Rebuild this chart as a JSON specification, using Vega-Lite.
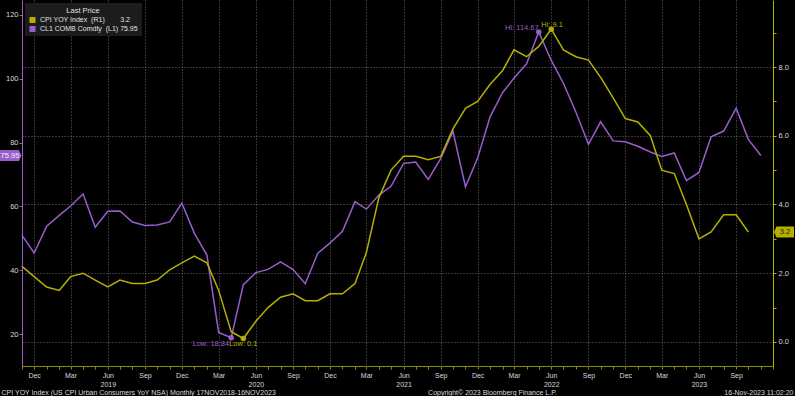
{
  "$schema": "https://vega.github.io/schema/vega-lite/v6.json",
  "width": 751,
  "height": 366,
  "autosize": {"type": "none"},
  "padding": {"left": 22, "top": 0, "right": 22, "bottom": 30},
  "background": "#000000",
  "config": {
    "view": {"stroke": null},
    "font": "Liberation Sans"
  },
  "datasets": {
    "oil": [
      {"date": "2018-11-01", "series": "CL1", "value": 50.93},
      {"date": "2018-12-01", "series": "CL1", "value": 45.41},
      {"date": "2019-01-01", "series": "CL1", "value": 53.79},
      {"date": "2019-02-01", "series": "CL1", "value": 57.22},
      {"date": "2019-03-01", "series": "CL1", "value": 60.14},
      {"date": "2019-04-01", "series": "CL1", "value": 63.91},
      {"date": "2019-05-01", "series": "CL1", "value": 53.5},
      {"date": "2019-06-01", "series": "CL1", "value": 58.47},
      {"date": "2019-07-01", "series": "CL1", "value": 58.58},
      {"date": "2019-08-01", "series": "CL1", "value": 55.1},
      {"date": "2019-09-01", "series": "CL1", "value": 54.07},
      {"date": "2019-10-01", "series": "CL1", "value": 54.18},
      {"date": "2019-11-01", "series": "CL1", "value": 55.17},
      {"date": "2019-12-01", "series": "CL1", "value": 61.06},
      {"date": "2020-01-01", "series": "CL1", "value": 51.56},
      {"date": "2020-02-01", "series": "CL1", "value": 44.76},
      {"date": "2020-03-01", "series": "CL1", "value": 20.48},
      {"date": "2020-04-01", "series": "CL1", "value": 18.84},
      {"date": "2020-05-01", "series": "CL1", "value": 35.49},
      {"date": "2020-06-01", "series": "CL1", "value": 39.27},
      {"date": "2020-07-01", "series": "CL1", "value": 40.27},
      {"date": "2020-08-01", "series": "CL1", "value": 42.61},
      {"date": "2020-09-01", "series": "CL1", "value": 40.22},
      {"date": "2020-10-01", "series": "CL1", "value": 35.79},
      {"date": "2020-11-01", "series": "CL1", "value": 45.34},
      {"date": "2020-12-01", "series": "CL1", "value": 48.52},
      {"date": "2021-01-01", "series": "CL1", "value": 52.2},
      {"date": "2021-02-01", "series": "CL1", "value": 61.5},
      {"date": "2021-03-01", "series": "CL1", "value": 59.16},
      {"date": "2021-04-01", "series": "CL1", "value": 63.58},
      {"date": "2021-05-01", "series": "CL1", "value": 66.32},
      {"date": "2021-06-01", "series": "CL1", "value": 73.47},
      {"date": "2021-07-01", "series": "CL1", "value": 73.95},
      {"date": "2021-08-01", "series": "CL1", "value": 68.5},
      {"date": "2021-09-01", "series": "CL1", "value": 75.03},
      {"date": "2021-10-01", "series": "CL1", "value": 83.57},
      {"date": "2021-11-01", "series": "CL1", "value": 66.18},
      {"date": "2021-12-01", "series": "CL1", "value": 75.21},
      {"date": "2022-01-01", "series": "CL1", "value": 88.15},
      {"date": "2022-02-01", "series": "CL1", "value": 95.72},
      {"date": "2022-03-01", "series": "CL1", "value": 100.28},
      {"date": "2022-04-01", "series": "CL1", "value": 104.69},
      {"date": "2022-05-01", "series": "CL1", "value": 114.67},
      {"date": "2022-06-01", "series": "CL1", "value": 105.76},
      {"date": "2022-07-01", "series": "CL1", "value": 98.62},
      {"date": "2022-08-01", "series": "CL1", "value": 89.55},
      {"date": "2022-09-01", "series": "CL1", "value": 79.49},
      {"date": "2022-10-01", "series": "CL1", "value": 86.53},
      {"date": "2022-11-01", "series": "CL1", "value": 80.55},
      {"date": "2022-12-01", "series": "CL1", "value": 80.26},
      {"date": "2023-01-01", "series": "CL1", "value": 78.87},
      {"date": "2023-02-01", "series": "CL1", "value": 77.05},
      {"date": "2023-03-01", "series": "CL1", "value": 75.67},
      {"date": "2023-04-01", "series": "CL1", "value": 76.78},
      {"date": "2023-05-01", "series": "CL1", "value": 68.09},
      {"date": "2023-06-01", "series": "CL1", "value": 70.64},
      {"date": "2023-07-01", "series": "CL1", "value": 81.8},
      {"date": "2023-08-01", "series": "CL1", "value": 83.63},
      {"date": "2023-09-01", "series": "CL1", "value": 90.79},
      {"date": "2023-10-01", "series": "CL1", "value": 81.02},
      {"date": "2023-11-01", "series": "CL1", "value": 75.95}
    ],
    "cpi": [
      {"date": "2018-11-01", "series": "CPI", "value": 2.2},
      {"date": "2018-12-01", "series": "CPI", "value": 1.9},
      {"date": "2019-01-01", "series": "CPI", "value": 1.6},
      {"date": "2019-02-01", "series": "CPI", "value": 1.5},
      {"date": "2019-03-01", "series": "CPI", "value": 1.9},
      {"date": "2019-04-01", "series": "CPI", "value": 2.0},
      {"date": "2019-05-01", "series": "CPI", "value": 1.8},
      {"date": "2019-06-01", "series": "CPI", "value": 1.6},
      {"date": "2019-07-01", "series": "CPI", "value": 1.8},
      {"date": "2019-08-01", "series": "CPI", "value": 1.7},
      {"date": "2019-09-01", "series": "CPI", "value": 1.7},
      {"date": "2019-10-01", "series": "CPI", "value": 1.8},
      {"date": "2019-11-01", "series": "CPI", "value": 2.1},
      {"date": "2019-12-01", "series": "CPI", "value": 2.3},
      {"date": "2020-01-01", "series": "CPI", "value": 2.5},
      {"date": "2020-02-01", "series": "CPI", "value": 2.3},
      {"date": "2020-03-01", "series": "CPI", "value": 1.5},
      {"date": "2020-04-01", "series": "CPI", "value": 0.3},
      {"date": "2020-05-01", "series": "CPI", "value": 0.1},
      {"date": "2020-06-01", "series": "CPI", "value": 0.6},
      {"date": "2020-07-01", "series": "CPI", "value": 1.0},
      {"date": "2020-08-01", "series": "CPI", "value": 1.3},
      {"date": "2020-09-01", "series": "CPI", "value": 1.4},
      {"date": "2020-10-01", "series": "CPI", "value": 1.2},
      {"date": "2020-11-01", "series": "CPI", "value": 1.2},
      {"date": "2020-12-01", "series": "CPI", "value": 1.4},
      {"date": "2021-01-01", "series": "CPI", "value": 1.4},
      {"date": "2021-02-01", "series": "CPI", "value": 1.7},
      {"date": "2021-03-01", "series": "CPI", "value": 2.6},
      {"date": "2021-04-01", "series": "CPI", "value": 4.2},
      {"date": "2021-05-01", "series": "CPI", "value": 5.0},
      {"date": "2021-06-01", "series": "CPI", "value": 5.4},
      {"date": "2021-07-01", "series": "CPI", "value": 5.4},
      {"date": "2021-08-01", "series": "CPI", "value": 5.3},
      {"date": "2021-09-01", "series": "CPI", "value": 5.4},
      {"date": "2021-10-01", "series": "CPI", "value": 6.2},
      {"date": "2021-11-01", "series": "CPI", "value": 6.8},
      {"date": "2021-12-01", "series": "CPI", "value": 7.0},
      {"date": "2022-01-01", "series": "CPI", "value": 7.5},
      {"date": "2022-02-01", "series": "CPI", "value": 7.9},
      {"date": "2022-03-01", "series": "CPI", "value": 8.5},
      {"date": "2022-04-01", "series": "CPI", "value": 8.3},
      {"date": "2022-05-01", "series": "CPI", "value": 8.6},
      {"date": "2022-06-01", "series": "CPI", "value": 9.1},
      {"date": "2022-07-01", "series": "CPI", "value": 8.5},
      {"date": "2022-08-01", "series": "CPI", "value": 8.3},
      {"date": "2022-09-01", "series": "CPI", "value": 8.2},
      {"date": "2022-10-01", "series": "CPI", "value": 7.7},
      {"date": "2022-11-01", "series": "CPI", "value": 7.1},
      {"date": "2022-12-01", "series": "CPI", "value": 6.5},
      {"date": "2023-01-01", "series": "CPI", "value": 6.4},
      {"date": "2023-02-01", "series": "CPI", "value": 6.0},
      {"date": "2023-03-01", "series": "CPI", "value": 5.0},
      {"date": "2023-04-01", "series": "CPI", "value": 4.9},
      {"date": "2023-05-01", "series": "CPI", "value": 4.0},
      {"date": "2023-06-01", "series": "CPI", "value": 3.0},
      {"date": "2023-07-01", "series": "CPI", "value": 3.2},
      {"date": "2023-08-01", "series": "CPI", "value": 3.7},
      {"date": "2023-09-01", "series": "CPI", "value": 3.7},
      {"date": "2023-10-01", "series": "CPI", "value": 3.2}
    ],
    "notes": [
      {"date": "2022-05-01", "series": "CL1", "kind": "hi", "value": 114.67, "label": "Hi: 114.67"},
      {"date": "2020-04-01", "series": "CL1", "kind": "low", "value": 18.84, "label": "Low: 18.84"},
      {"date": "2022-06-01", "series": "CPI", "kind": "hi", "value": 9.1, "label": "Hi: 9.1"},
      {"date": "2020-05-01", "series": "CPI", "kind": "low", "value": 0.1, "label": "Low: 0.1"}
    ],
    "tags": [
      {"series": "CL1", "value": 75.95, "label": "75.95"},
      {"series": "CPI", "value": 3.2, "label": "3.2"}
    ]
  },
  "layer": [
    {
      "layer": [
        {
          "data": {"name": "oil"},
          "mark": {"type": "line", "strokeWidth": 1.5, "clip": false},
          "encoding": {
            "x": {
              "field": "date",
              "type": "temporal",
              "scale": {"type": "utc", "domain": [{"year": 2018, "month": 11, "date": 1, "utc": true}, {"year": 2023, "month": 12, "date": 1, "utc": true}]},
              "axis": {
                "tickCount": {"interval": "month", "step": 1},
                "labelExpr": "(utcyear(datum.value) === 2023 && utcmonth(datum.value) === 11) ? '' : (utcmonth(datum.value) === 5 ? [utcFormat(datum.value, '%b'), utcFormat(datum.value, '%Y')] : (utcmonth(datum.value) % 3 === 2 ? utcFormat(datum.value, '%b') : ''))",
                "labelOverlap": false,
                "labelFlush": false,
                "labelBound": false,
                "labelColor": "#d8d8d8",
                "labelFontSize": 7,
                "labelLineHeight": 9,
                "labelPadding": 2,
                "grid": true,
                "gridColor": "#6a6a6a",
                "gridDash": [1, 2],
                "gridOpacity": {"condition": {"test": "utcmonth(datum.value) % 3 === 2 && !(utcyear(datum.value) === 2023 && utcmonth(datum.value) === 11)", "value": 1}, "value": 0},
                "domainColor": "#8c8a00",
                "tickColor": "#8c8a00",
                "tickSize": 3,
                "title": "CPI YOY Index (US CPI Urban Consumers YoY NSA)  Monthly 17NOV2018-16NOV2023",
                "titleX": -21,
                "titleY": 28,
                "titleAlign": "left",
                "titleBaseline": "alphabetic",
                "titleColor": "#d8d8d8",
                "titleFontSize": 7,
                "titleFontWeight": "normal"
              }
            },
            "y": {
              "field": "value",
              "type": "quantitative",
              "scale": {"domain": [10, 124.7], "nice": false, "zero": false},
              "axis": {
                "orient": "left",
                "values": [20, 30, 40, 50, 60, 70, 80, 90, 100, 110, 120],
                "format": "d",
                "labelExpr": "datum.value % 20 === 0 ? datum.label : ''",
                "grid": false,
                "domainColor": "#9b5ccc",
                "tickColor": "#9b5ccc",
                "tickSize": 3,
                "labelColor": "#d8d8d8",
                "labelFontSize": 7.5,
                "labelPadding": 1,
                "title": "Copyright© 2023 Bloomberg Finance L.P.",
                "titleAngle": 0,
                "titleX": 470,
                "titleY": 394,
                "titleAlign": "center",
                "titleBaseline": "alphabetic",
                "titleColor": "#d8d8d8",
                "titleFontSize": 7,
                "titleFontWeight": "normal"
              }
            },
            "color": {
              "field": "series",
              "type": "nominal",
              "scale": {"domain": ["CPI", "CL1"], "range": ["#b5b000", "#9b5ccc"]},
              "legend": {
                "orient": "top-left",
                "offset": 3,
                "title": "Last Price",
                "titleAnchor": "middle",
                "titleAlign": "center",
                "titleColor": "#e0e0e0",
                "titleFontSize": 7.5,
                "titleFontWeight": "normal",
                "titlePadding": 2,
                "fillColor": "#1c1c1c",
                "padding": 4,
                "rowPadding": 1,
                "symbolType": "square",
                "symbolSize": 36,
                "labelColor": "#e0e0e0",
                "labelFontSize": 7,
                "labelExpr": "datum.value === 'CPI' ? 'CPI YOY Index\u00a0\u00a0(R1)\u00a0\u00a0\u00a0\u00a0\u00a0\u00a0\u00a0\u00a03.2' : 'CL1 COMB Comdty\u00a0\u00a0(L1)\u00a075.95'",
                "encode": {"symbols": {"update": {"fill": {"scale": "color", "field": "value"}, "fillOpacity": {"value": 1}, "strokeWidth": {"value": 0}}}}
              }
            }
          }
        },
        {
          "data": {"name": "notes"},
          "transform": [{"filter": "datum.series === 'CL1'"}],
          "mark": {"type": "point", "filled": true, "opacity": 1, "size": 30, "color": "#9b5ccc"},
          "encoding": {
            "x": {"field": "date", "type": "temporal"},
            "y": {"field": "value", "type": "quantitative"}
          }
        },
        {
          "data": {"name": "notes"},
          "transform": [{"filter": "datum.series === 'CL1' && datum.kind === 'hi'"}],
          "mark": {"type": "text", "align": "right", "baseline": "middle", "dx": 0, "dy": -4, "fontSize": 7.5, "color": "#9b5ccc"},
          "encoding": {
            "x": {"field": "date", "type": "temporal"},
            "y": {"field": "value", "type": "quantitative"},
            "text": {"field": "label"}
          }
        },
        {
          "data": {"name": "notes"},
          "transform": [{"filter": "datum.series === 'CL1' && datum.kind === 'low'"}],
          "mark": {"type": "text", "align": "right", "baseline": "middle", "dx": -2, "dy": 6, "fontSize": 7.5, "color": "#9b5ccc"},
          "encoding": {
            "x": {"field": "date", "type": "temporal"},
            "y": {"field": "value", "type": "quantitative"},
            "text": {"field": "label"}
          }
        },
        {
          "data": {"name": "tags"},
          "transform": [{"filter": "datum.series === 'CL1'"}],
          "mark": {"type": "point", "filled": true, "opacity": 1, "size": 400, "strokeWidth": 0, "color": "#9b5ccc", "shape": "M-2.2,-0.55L-0.3,-0.55L-0.05,0L-0.3,0.55L-2.2,0.55Z"},
          "encoding": {
            "x": {"datum": {"year": 2018, "month": 11, "date": 1, "utc": true}, "type": "temporal"},
            "y": {"field": "value", "type": "quantitative"}
          }
        },
        {
          "data": {"name": "tags"},
          "transform": [{"filter": "datum.series === 'CL1'"}],
          "mark": {"type": "text", "align": "center", "baseline": "middle", "dx": -12, "fontSize": 7.5, "color": "#f0f0f0"},
          "encoding": {
            "x": {"datum": {"year": 2018, "month": 11, "date": 1, "utc": true}, "type": "temporal"},
            "y": {"field": "value", "type": "quantitative"},
            "text": {"field": "label"}
          }
        }
      ]
    },
    {
      "layer": [
        {
          "data": {"name": "cpi"},
          "mark": {"type": "line", "strokeWidth": 1.5, "clip": false},
          "encoding": {
            "x": {"field": "date", "type": "temporal"},
            "y": {
              "field": "value",
              "type": "quantitative",
              "scale": {"domain": [-0.7, 9.95], "nice": false, "zero": false},
              "axis": {
                "orient": "right",
                "values": [0, 1, 2, 3, 4, 5, 6, 7, 8, 9],
                "format": ".1f",
                "labelExpr": "datum.value % 2 === 0 ? datum.label : ''",
                "grid": true,
                "gridColor": "#6a6a6a",
                "gridDash": [1, 2],
                "gridOpacity": {"condition": {"test": "datum.value % 2 === 0", "value": 1}, "value": 0},
                "domainColor": "#b5b000",
                "tickColor": "#b5b000",
                "tickSize": 3,
                "labelColor": "#d8d8d8",
                "labelFontSize": 7.5,
                "labelPadding": 2,
                "title": "16-Nov-2023 11:02:20",
                "titleAngle": 0,
                "titleX": 20,
                "titleY": 394,
                "titleAlign": "right",
                "titleBaseline": "alphabetic",
                "titleColor": "#d8d8d8",
                "titleFontSize": 7,
                "titleFontWeight": "normal"
              }
            },
            "color": {"field": "series", "type": "nominal"}
          }
        },
        {
          "data": {"name": "notes"},
          "transform": [{"filter": "datum.series === 'CPI'"}],
          "mark": {"type": "point", "filled": true, "opacity": 1, "size": 30, "color": "#b5b000"},
          "encoding": {
            "x": {"field": "date", "type": "temporal"},
            "y": {"field": "value", "type": "quantitative"}
          }
        },
        {
          "data": {"name": "notes"},
          "transform": [{"filter": "datum.series === 'CPI' && datum.kind === 'hi'"}],
          "mark": {"type": "text", "align": "left", "baseline": "middle", "dx": -10, "dy": -4, "fontSize": 7.5, "color": "#b5b000"},
          "encoding": {
            "x": {"field": "date", "type": "temporal"},
            "y": {"field": "value", "type": "quantitative"},
            "text": {"field": "label"}
          }
        },
        {
          "data": {"name": "notes"},
          "transform": [{"filter": "datum.series === 'CPI' && datum.kind === 'low'"}],
          "mark": {"type": "text", "align": "center", "baseline": "middle", "dy": 5, "fontSize": 7.5, "color": "#b5b000"},
          "encoding": {
            "x": {"field": "date", "type": "temporal"},
            "y": {"field": "value", "type": "quantitative"},
            "text": {"field": "label"}
          }
        },
        {
          "data": {"name": "tags"},
          "transform": [{"filter": "datum.series === 'CPI'"}],
          "mark": {"type": "point", "filled": true, "opacity": 1, "size": 400, "strokeWidth": 0, "color": "#b5b000", "shape": "M0.1,0L0.35,-0.55L2.1,-0.55L2.1,0.55L0.35,0.55Z"},
          "encoding": {
            "x": {"datum": {"year": 2023, "month": 12, "date": 1, "utc": true}, "type": "temporal"},
            "y": {"field": "value", "type": "quantitative"}
          }
        },
        {
          "data": {"name": "tags"},
          "transform": [{"filter": "datum.series === 'CPI'"}],
          "mark": {"type": "text", "align": "center", "baseline": "middle", "dx": 12, "fontSize": 7.5, "color": "#1a1a00"},
          "encoding": {
            "x": {"datum": {"year": 2023, "month": 12, "date": 1, "utc": true}, "type": "temporal"},
            "y": {"field": "value", "type": "quantitative"},
            "text": {"field": "label"}
          }
        }
      ]
    }
  ],
  "resolve": {"scale": {"y": "independent"}, "axis": {"y": "independent"}}
}
